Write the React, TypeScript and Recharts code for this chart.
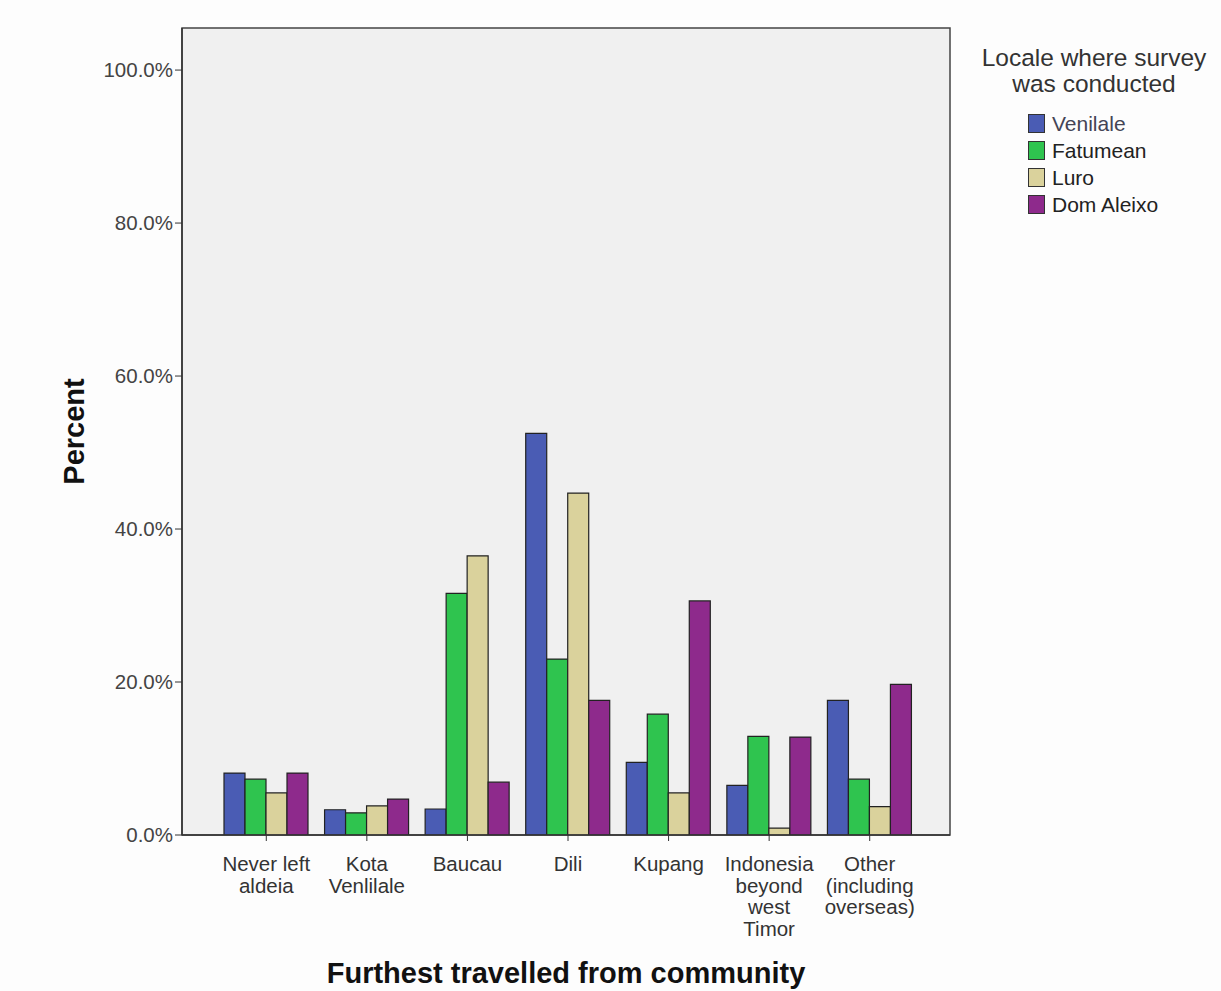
import React from "react";
import * as R from "recharts";
import { BarChart, Bar, XAxis, YAxis, CartesianGrid } from "recharts";

const categories = [
  "Never left aldeia",
  "Kota Venlilale",
  "Baucau",
  "Dili",
  "Kupang",
  "Indonesia beyond west Timor",
  "Other (including overseas)",
];
const categoryLines = [
  ["Never left", "aldeia"],
  ["Kota", "Venlilale"],
  ["Baucau"],
  ["Dili"],
  ["Kupang"],
  ["Indonesia", "beyond", "west", "Timor"],
  ["Other", "(including", "overseas)"],
];
const venilale = [8.1, 3.3, 3.4, 52.5, 9.5, 6.5, 17.6];
const fatumean = [7.3, 2.9, 31.6, 23.0, 15.8, 12.9, 7.3];
const luro = [5.5, 3.8, 36.5, 44.7, 5.5, 0.9, 3.7];
const domAleixo = [8.1, 4.7, 6.9, 17.6, 30.6, 12.8, 19.7];
const yTicks = [0, 20, 40, 60, 80, 100];
const yMax = 105.5;

const seriesNames = ["Venilale", "Fatumean", "Luro", "Dom Aleixo"];
const seriesKeys = ["venilale", "fatumean", "luro", "domAleixo"];
const seriesColors = ["#4a5cb4", "#2fc44f", "#dad29c", "#8e2a8c"];

const data = categories.map((c, i) => ({
  category: c,
  venilale: venilale[i],
  fatumean: fatumean[i],
  luro: luro[i],
  domAleixo: domAleixo[i],
}));

const FONT = "Liberation Sans, Arial, sans-serif";

const usePlot: any = (R as any).usePlotArea || (() => null);

const Frame = () => {
  const p = usePlot();
  if (!p) return null;
  return <rect x={p.x} y={p.y} width={p.width} height={p.height} fill="none" stroke="#444" strokeWidth={1.5} />;
};

const CategoryTick = (props: any) => {
  const { x, y, index } = props;
  const lines = categoryLines[index] || [];
  return (
    <g>
      {lines.map((l, k) => (
        <text key={k} x={x} y={y + 28 + k * 21.5} textAnchor="middle" fontFamily={FONT} fontSize={20.5} fill="#333">
          {l}
        </text>
      ))}
    </g>
  );
};

const LegendBox = () => (
  <div style={{ position: "absolute", left: 964, top: 45, width: 260, fontFamily: FONT, color: "#333" }}>
    <div style={{ textAlign: "center", fontSize: 24.5, lineHeight: "26px", width: 260 }}>
      Locale where survey
      <br />
      was conducted
    </div>
    <div style={{ marginTop: 13, marginLeft: 64 }}>
      {seriesNames.map((n, i) => (
        <div key={n} style={{ display: "flex", alignItems: "center", height: 27 }}>
          <div
            style={{
              width: 15,
              height: 17,
              background: seriesColors[i],
              border: "1.5px solid #333",
              marginRight: 7,
            }}
          />
          <span style={{ fontSize: 21, color: i === 0 ? "#445" : "#222" }}>{n}</span>
        </div>
      ))}
    </div>
  </div>
);

export default function App() {
  return (
    <div style={{ position: "absolute", left: 0, top: 0, width: 1221, height: 991, background: "#fdfdfd" }}>
      <BarChart
        width={1221}
        height={991}
        data={data}
        margin={{ top: 28, right: 271, bottom: 0, left: 0 }}
        barCategoryGap={8}
        barGap={0}
      >
        <CartesianGrid horizontal={false} vertical={false} fill="#f0f0f0" />
        <XAxis
          dataKey="category"
          height={156}
          tick={<CategoryTick />}
          tickLine={{ stroke: "#333" }}
          tickSize={6}
          axisLine={{ stroke: "#333", strokeWidth: 1.5 }}
          padding={{ left: 34, right: 30 }}
          interval={0}
          label={{
            value: "Furthest travelled from community",
            position: "insideBottom",
            offset: 8,
            fontFamily: FONT,
            fontSize: 29,
            fontWeight: "bold",
            fill: "#111",
          }}
        />
        <YAxis
          domain={[0, yMax]}
          ticks={yTicks}
          width={182}
          tickFormatter={(v: number) => `${v.toFixed(1)}%`}
          tick={{ fontFamily: FONT, fontSize: 20.5, fill: "#444" }}
          tickLine={{ stroke: "#333" }}
          tickSize={7}
          axisLine={{ stroke: "#333", strokeWidth: 1.5 }}
          allowDataOverflow
          label={{
            value: "Percent",
            angle: -90,
            position: "insideLeft",
            offset: 74,
            fontFamily: FONT,
            fontSize: 29,
            fontWeight: "bold",
            fill: "#111",
            style: { textAnchor: "middle" },
          }}
        />
        {seriesKeys.map((k, i) => (
          <Bar
            key={k}
            dataKey={k}
            name={seriesNames[i]}
            fill={seriesColors[i]}
            stroke="#222"
            strokeWidth={1.2}
            isAnimationActive={false}
          />
        ))}
        <Frame />
      </BarChart>
      <LegendBox />
    </div>
  );
}
